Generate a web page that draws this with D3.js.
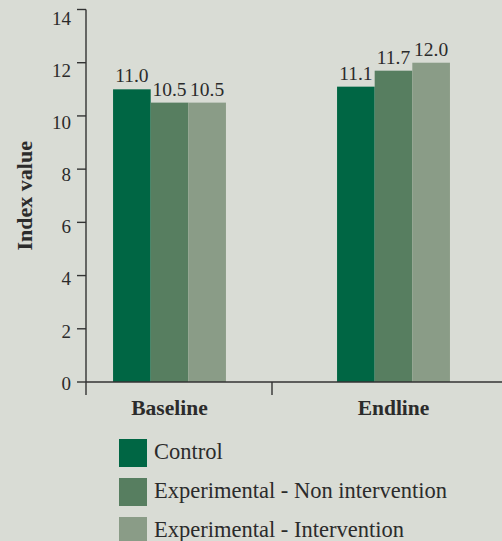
<!DOCTYPE html>
<html>
<head>
<meta charset="utf-8">
<script src="https://cdn.jsdelivr.net/npm/d3@7"></script>
<style>
  body { margin: 0; background: #d9dcd5; }
  svg { display: block; font-family: "Liberation Serif", "DejaVu Serif", serif; }
</style>
</head>
<body>
<div id="chart"></div>
<script>
// data
var categories = ["Baseline", "Endline"];
var seriesNames = ["Control", "Experimental - Non intervention", "Experimental - Intervention"];
var control = [11.0, 11.1];
var nonIntervention = [10.5, 11.7];
var intervention = [10.5, 12.0];
var yTicks = [0, 2, 4, 6, 8, 10, 12, 14];
var colors = ["#006644", "#577e60", "#8a9c87"];

var width = 502, height = 541;
var textColor = "#2b2b2b";

var svg = d3.select("#chart").append("svg")
  .attr("width", width)
  .attr("height", height);

var series = [control, nonIntervention, intervention];
var rows = categories.map(function(c, i) {
  return { cat: c, values: series.map(function(s, j) { return { key: seriesNames[j], value: s[i] }; }) };
});

// scales
var y = d3.scaleLinear().domain([0, 14]).range([382, 9.5]);
var yLabel = d3.scaleLinear().domain([0, 14]).range([383, 18]); // labels sit a little below the ticks
var x0 = d3.scaleBand().domain(categories).range([57.5, 505.5])
  .paddingInner(0.496).paddingOuter(0.248);
var x1 = d3.scaleBand().domain(seriesNames).range([0, x0.bandwidth()]);
var xAxisBand = d3.scaleBand().domain(categories).range([86, 458]);
var color = d3.scaleOrdinal().domain(seriesNames).range(colors);

var axisX = 86;

// bars
var groups = svg.append("g").selectAll("g")
  .data(rows)
  .enter().append("g")
    .attr("transform", function(d) { return "translate(" + x0(d.cat) + ",0)"; });

groups.selectAll("rect")
  .data(function(d) { return d.values; })
  .enter().append("rect")
    .attr("x", function(d) { return x1(d.key); })
    .attr("y", function(d) { return y(d.value); })
    .attr("width", x1.bandwidth())
    .attr("height", function(d) { return y(0) - y(d.value); })
    .attr("fill", function(d) { return color(d.key); });

groups.selectAll("text")
  .data(function(d) { return d.values; })
  .enter().append("text")
    .attr("x", function(d) { return x1(d.key) + x1.bandwidth() / 2; })
    .attr("y", function(d) { return y(d.value) - 7; })
    .attr("text-anchor", "middle")
    .style("font-size", "19.5px")
    .attr("fill", textColor)
    .text(function(d) { return d.value.toFixed(1); });

// y axis
var yAxis = svg.append("g").attr("transform", "translate(" + axisX + ",0)");
yAxis.append("line")
  .attr("y1", y(14)).attr("y2", y(0) + 13)
  .attr("stroke", "#333").attr("stroke-width", 1.4);
yAxis.selectAll("line.tick")
  .data(yTicks)
  .enter().append("line")
    .attr("class", "tick")
    .attr("x1", -9).attr("x2", 0)
    .attr("y1", function(d) { return y(d); })
    .attr("y2", function(d) { return y(d); })
    .attr("stroke", "#333").attr("stroke-width", 1.4);
yAxis.selectAll("text")
  .data(yTicks)
  .enter().append("text")
    .attr("x", -15)
    .attr("y", function(d) { return yLabel(d); })
    .attr("dy", "0.35em")
    .attr("text-anchor", "end")
    .style("font-size", "19px")
    .attr("fill", textColor)
    .text(function(d) { return d; });

svg.append("text")
  .attr("transform", "translate(32," + ((y(0) + y(14)) / 2) + ") rotate(-90)")
  .attr("text-anchor", "middle")
  .style("font-size", "22px")
  .style("font-weight", "bold")
  .attr("fill", textColor)
  .text("Index value");

// x axis
svg.append("line")
  .attr("x1", axisX).attr("x2", width)
  .attr("y1", y(0)).attr("y2", y(0))
  .attr("stroke", "#333").attr("stroke-width", 1.4);
svg.append("line")
  .attr("x1", xAxisBand("Endline")).attr("x2", xAxisBand("Endline"))
  .attr("y1", y(0)).attr("y2", y(0) + 13)
  .attr("stroke", "#333").attr("stroke-width", 1.4);
svg.selectAll("text.cat")
  .data(categories)
  .enter().append("text")
    .attr("class", "cat")
    .attr("x", function(d) { return x0(d) + x0.bandwidth() / 2; })
    .attr("y", 414.5)
    .attr("text-anchor", "middle")
    .style("font-size", "21.5px")
    .style("font-weight", "bold")
    .attr("fill", textColor)
    .text(function(d) { return d; });

// legend
var legend = svg.append("g").selectAll("g")
  .data(seriesNames)
  .enter().append("g")
    .attr("transform", function(d, i) { return "translate(119," + (439 + i * 39) + ")"; });
legend.append("rect")
  .attr("width", 28).attr("height", 28)
  .attr("fill", function(d) { return color(d); });
legend.append("text")
  .attr("x", 35).attr("y", 20)
  .style("font-size", "22.5px")
  .attr("fill", textColor)
  .text(function(d) { return d; });
</script>
</body>
</html>
